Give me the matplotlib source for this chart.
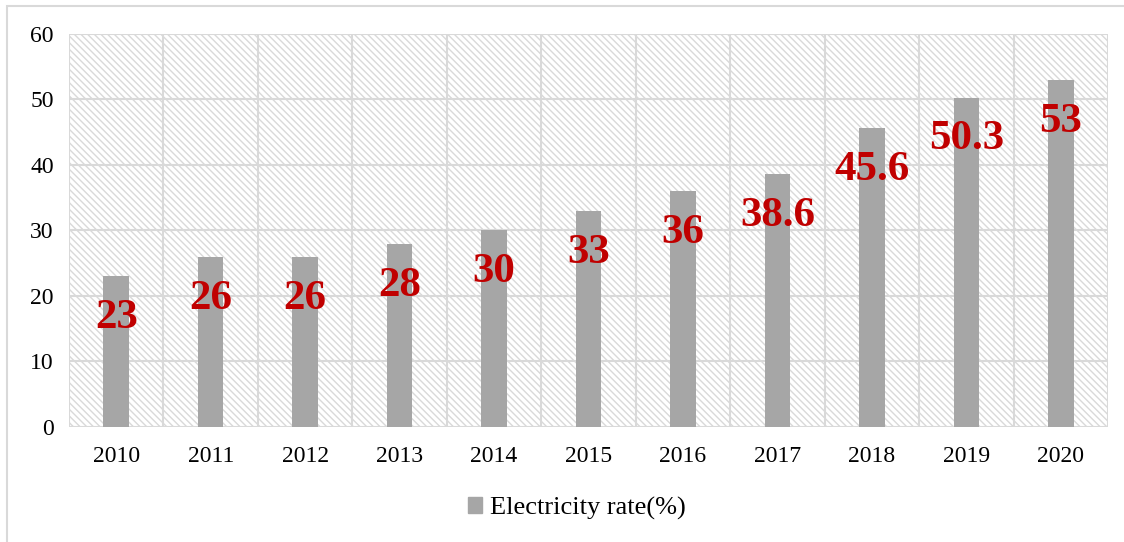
import matplotlib.pyplot as plt
from matplotlib.patches import Rectangle, Patch

years = ['2010', '2011', '2012', '2013', '2014', '2015', '2016', '2017', '2018', '2019', '2020']
rate = [23, 26, 26, 28, 30, 33, 36, 38.6, 45.6, 50.3, 53]
rate_labels = ['23', '26', '26', '28', '30', '33', '36', '38.6', '45.6', '50.3', '53']

plt.rcParams['font.family'] = ['Liberation Serif', 'DejaVu Serif']
plt.rcParams['hatch.linewidth'] = 1.0
plt.rcParams['hatch.color'] = '#d9d9d9'

grid_col = '#d9d9d9'
bar_col = '#a6a6a6'

fig = plt.figure(figsize=(11.24, 5.42), dpi=100)
fig.patches.append(Rectangle((0.006, -0.01), 1.0, 1.0 - 0.001, transform=fig.transFigure,
                             fill=False, edgecolor=grid_col, linewidth=1.5))
ax = fig.add_axes([0.0614, 0.2122, 0.9244, 0.7251])

x = list(range(len(years)))
ax.set_xlim(-0.5, len(years) - 0.5)
ax.set_ylim(0, 60)

# hatched plot background
ax.add_patch(Rectangle((0, 0), 1, 1, transform=ax.transAxes, facecolor='white',
                       hatch='\\\\\\\\\\', edgecolor='#d9d9d9', linewidth=0, zorder=0))

for k in range(len(years) + 1):
    ax.axvline(k - 0.5, color=grid_col, linewidth=1.5, zorder=1)
for v in range(0, 61, 10):
    ax.axhline(v, color=grid_col, linewidth=1.5, zorder=1)

ax.bar(x, rate, width=0.27, color=bar_col, zorder=2)

for xi, v, lab in zip(x, rate, rate_labels):
    ax.text(xi, v - 6.4, lab, ha='center', va='center', color='#c00000',
            fontsize=31, fontweight='bold', zorder=3)

for s in ax.spines.values():
    s.set_visible(False)
ax.set_xticks(x)
ax.set_xticklabels(years)
ax.set_yticks(range(0, 61, 10))
ax.tick_params(length=0, labelsize=17, pad=14)
ax.tick_params(axis='y', pad=11)

fig.legend(handles=[Patch(color=bar_col)], labels=['Electricity rate(%)'],
           loc='center', bbox_to_anchor=(0.513, 0.062), frameon=False, fontsize=19,
           handlelength=0.55, handleheight=0.55, handletextpad=0.3)

fig.savefig('out.png', dpi=100)
